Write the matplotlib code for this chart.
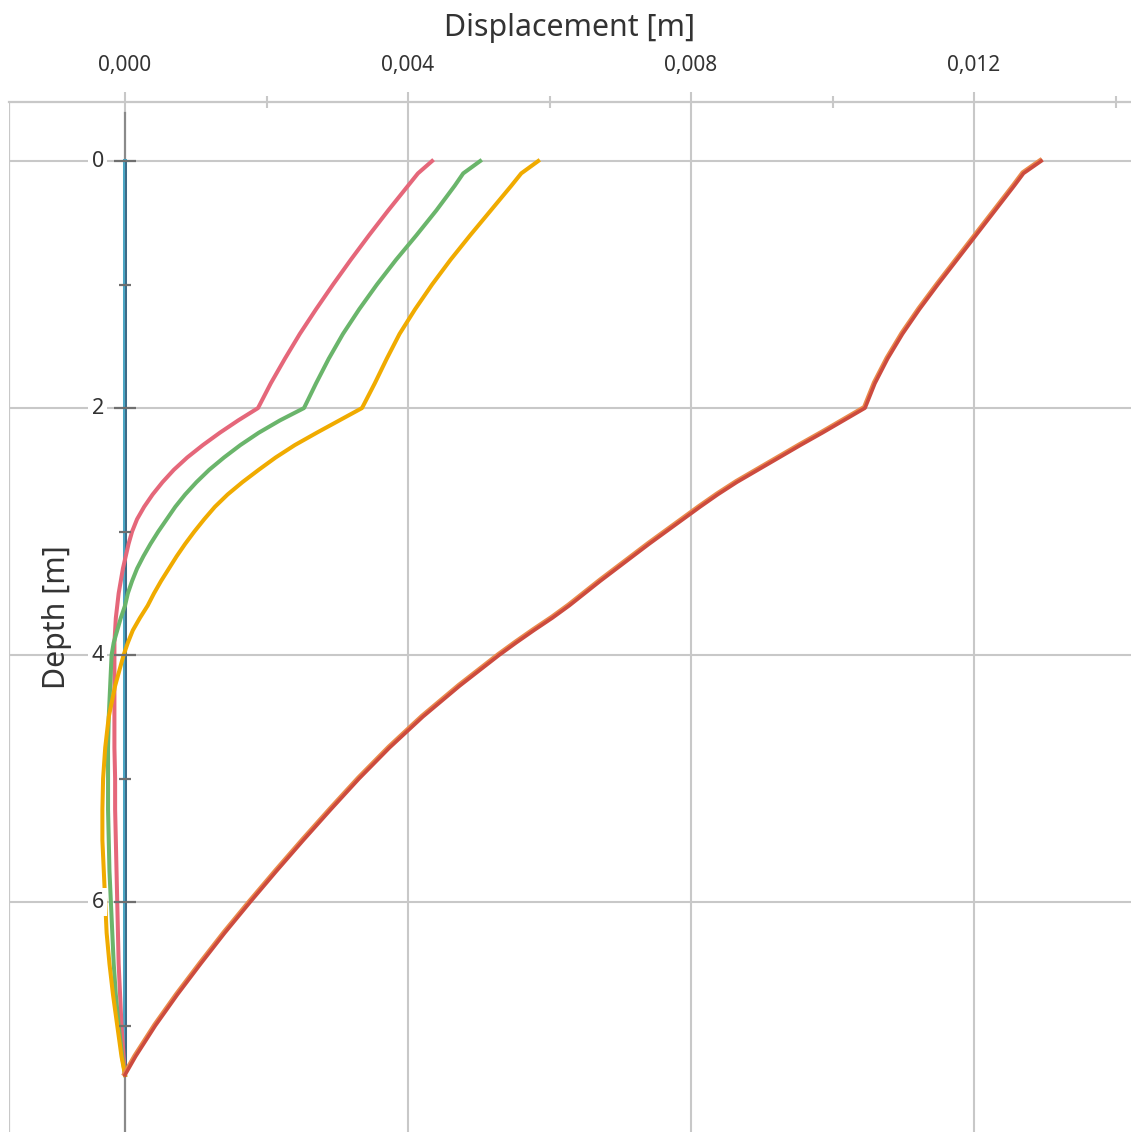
import matplotlib
matplotlib.use("Agg")
import matplotlib.pyplot as plt
import matplotlib.transforms as mtransforms
from matplotlib.ticker import MultipleLocator, FuncFormatter

plt.rcParams['font.family'] = ['Noto Sans', 'DejaVu Sans']

# depth along the pile [m]
depth = [0.0, 0.1, 0.2, 0.4, 0.6, 0.8, 1.0, 1.2, 1.4, 1.6, 1.8,
         2.0, 2.1, 2.2, 2.3, 2.4, 2.5, 2.6, 2.7, 2.8, 2.9, 3.0,
         3.1, 3.2, 3.3, 3.4, 3.5, 3.6, 3.7, 3.8, 3.9, 4.0,
         4.25, 4.5, 4.75, 5.0, 5.25, 5.5, 5.75, 6.0, 6.25, 6.5, 6.75, 7.0, 7.25, 7.4]

# horizontal displacement [m] per load case
disp_pink = [0.00434, 0.00414, 0.00400, 0.00372, 0.00345, 0.00319, 0.00294, 0.00270, 0.00247, 0.00226, 0.00206,
             0.00188, 0.00160, 0.00134, 0.00110, 0.00088, 0.00069, 0.00053, 0.00039, 0.00027, 0.00017, 0.00010,
             0.00005, 0.00001, -0.00003, -0.00006, -0.00009, -0.00011, -0.00013, -0.00014, -0.00015, -0.00015,
             -0.00015, -0.00015, -0.00015, -0.00014, -0.00014, -0.00013, -0.00012, -0.00011, -0.00010,
             -0.00009, -0.00007, -0.00005, -0.00002, 0.0]
disp_green = [0.00502, 0.00478, 0.00466, 0.00440, 0.00412, 0.00383, 0.00356, 0.00331, 0.00308, 0.00288, 0.00270,
              0.00253, 0.00219, 0.00189, 0.00163, 0.00140, 0.00119, 0.00101, 0.00085, 0.00071, 0.00059, 0.00047,
              0.00036, 0.00026, 0.00017, 0.00010, 0.00004, 0.00000, -0.00006, -0.00011, -0.00016, -0.00019,
              -0.00021, -0.00023, -0.00024, -0.00024, -0.00024, -0.00023, -0.00022, -0.00020, -0.00018,
              -0.00016, -0.00013, -0.00009, -0.00004, 0.0]
disp_yellow = [0.00584, 0.00560, 0.00546, 0.00517, 0.00488, 0.00460, 0.00434, 0.00410, 0.00388, 0.00370, 0.00353,
               0.00335, 0.00303, 0.00271, 0.00240, 0.00213, 0.00189, 0.00166, 0.00145, 0.00127, 0.00112, 0.00098,
               0.00085, 0.00073, 0.00062, 0.00051, 0.00041, 0.00032, 0.00021, 0.00011, 0.00004, -0.00002,
               -0.00014, -0.00023, -0.00028, -0.00031, -0.00032, -0.00032, -0.00030, -0.00028, -0.00026,
               -0.00022, -0.00017, -0.00011, -0.00005, 0.0]
disp_red = [0.01295, 0.01270, 0.01257, 0.01230, 0.01203, 0.01176, 0.01149, 0.01123, 0.01099, 0.01078, 0.01060,
            0.01046, 0.01016, 0.00986, 0.00955, 0.00925, 0.00895, 0.00865, 0.00838, 0.00813, 0.00789, 0.00765,
            0.00741, 0.00718, 0.00695, 0.00672, 0.00650, 0.00628, 0.00604, 0.00578, 0.00553, 0.00529,
            0.00473, 0.00421, 0.00374, 0.00331, 0.00291, 0.00252, 0.00214, 0.00177, 0.00141,
            0.00107, 0.00074, 0.00043, 0.00015, 0.0]
disp_zero = [0.0] * len(depth)

x_ticks_major = [0.0, 0.004, 0.008, 0.012]
y_ticks_major = [0, 2, 4, 6]
y_ticks_minor = [1, 3, 5, 7]

GRID = '#c8c8c8'
AXIS = '#8a8a8a'
TICK = '#6f6f6f'
TEXT = '#333333'

fig = plt.figure(figsize=(11.31, 11.32), dpi=100)
W, H = 1131, 1132
ax = fig.add_axes([9 / W, 0, 1 - 9 / W, (H - 102) / H])

xmin, xmax = -0.00164, 0.014219
ymin, ymax = -0.478, 7.862
ax.set_xlim(xmin, xmax)
ax.set_ylim(ymax, ymin)
axis_top = -0.39

# gridlines under the curves
for xv in x_ticks_major[1:]:
    ax.axvline(xv, color=GRID, lw=1.5, zorder=0.5)
for yv in y_ticks_major:
    ax.axhline(yv, color=GRID, lw=1.5, zorder=0.5)
ax.axvline(0, ymin=(ymax - axis_top) / (ymax - ymin), ymax=1, color=GRID, lw=1.5, zorder=0.5)

lw = 2.9
ax.plot(disp_zero, depth, color='#4ba6c4', lw=lw, zorder=3)
shift_r = mtransforms.offset_copy(ax.transData, fig=fig, x=1.2, y=0, units='dots')
ax.plot(disp_zero, depth, color='#3d6a86', lw=1.4, zorder=3, transform=shift_r)
ax.plot(disp_pink, depth, color='#e5677a', lw=lw, zorder=3)
ax.plot(disp_green, depth, color='#6ab56b', lw=lw, zorder=3)
ax.plot(disp_yellow, depth, color='#f0ab00', lw=lw, zorder=3)
shift_ul = mtransforms.offset_copy(ax.transData, fig=fig, x=-1.0, y=1.0, units='dots')
ax.plot(disp_red, depth, color='#ea8a4c', lw=lw, zorder=3, transform=shift_ul)
ax.plot(disp_red, depth, color='#cc4a3e', lw=2.6, zorder=3.1)

# frame: light top and left borders, vertical axis through x = 0
for side in ['right', 'bottom', 'left']:
    ax.spines[side].set_visible(False)
ax.spines['top'].set_color(GRID)
ax.spines['top'].set_linewidth(1.6)
ax.axvline(xmin, color=GRID, lw=1.6, zorder=0.6)
ax.plot([0, 0], [axis_top, ymax], color=AXIS, lw=1.6, zorder=2)

# top x axis
ax.xaxis.tick_top()
ax.xaxis.set_major_locator(MultipleLocator(0.004))
ax.xaxis.set_minor_locator(MultipleLocator(0.002))
ax.xaxis.set_major_formatter(FuncFormatter(lambda v, p: f"{abs(v) if abs(v) < 1e-9 else v:.3f}".replace('.', ',')))
ax.tick_params(axis='x', which='major', direction='out', length=7.5, width=1.5, color=GRID,
               labelsize=15, labelcolor=TEXT, pad=11)
ax.tick_params(axis='x', which='minor', direction='inout', length=9, width=1.5, color=GRID)
ax.xaxis.set_label_position('top')
ax.set_xlabel('Displacement [m]', fontsize=21.8, color=TEXT, labelpad=14)

# depth ticks drawn on the zero axis
ax.set_yticks([])
for yv in y_ticks_major + y_ticks_minor:
    half = 11 if yv in y_ticks_major else 6
    p0 = mtransforms.offset_copy(ax.transData, fig=fig, x=-half, y=0, units='dots').transform((0, yv))
    p1 = mtransforms.offset_copy(ax.transData, fig=fig, x=half, y=0, units='dots').transform((0, yv))
    ax.plot([p0[0], p1[0]], [p0[1], p1[1]], color=TICK, lw=1.6, zorder=4,
            transform=None, solid_capstyle='butt')

lab_tr = mtransforms.offset_copy(ax.transData, fig=fig, x=-21, y=0, units='dots')
for yv in y_ticks_major:
    ax.text(0, yv, str(yv), transform=lab_tr, ha='right', va='center', fontsize=15.5,
            color=TEXT, zorder=5,
            bbox=dict(facecolor='white', edgecolor='none', pad=2.5))

ax.text(0.0295, 0.5, 'Depth [m]', transform=ax.transAxes, rotation=90, ha='left', va='center',
        fontsize=21.8, color=TEXT)

fig.savefig('out.png', dpi=100)
